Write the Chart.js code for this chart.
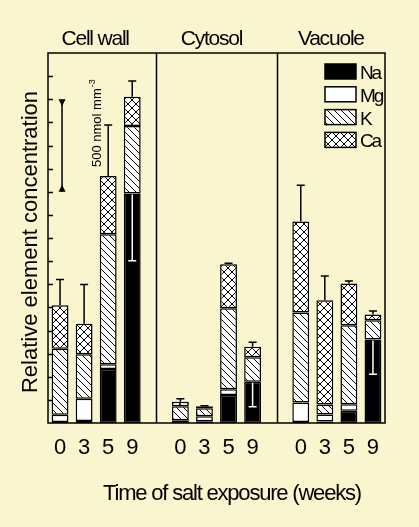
<!DOCTYPE html>
<html>
<head>
<meta charset="utf-8">
<script src="https://cdn.jsdelivr.net/npm/chart.js@4"></script>
<style>
  html, body { margin: 0; padding: 0; background: #f9f5cf; }
  canvas { display: block; }
</style>
</head>
<body>
<canvas id="c" width="419" height="527"></canvas>
<script>
// Compartments, sampling weeks and element values (nmol mm-3)
const compartments = ['Cell wall', 'Cytosol', 'Vacuole'];
const weeks = ['0', '3', '5', '9'];
const elements = ['Na', 'Mg', 'K', 'Ca'];

// order per compartment: week 0, 3, 5, 9
const naValues = [5, 11, 292, 1241,   5, 10, 151, 223,   5, 8, 66, 452];
const mgValues = [40, 120, 25, 0,     10, 27, 31, 0,     106, 38, 36, 0];
const kValues  = [357, 240, 703, 364, 76, 43, 438, 132,  486, 54, 427, 104];
const caValues = [234, 165, 315, 158, 24, 10, 238, 57,   492, 564, 225, 31];
const errTotal = [140, 213, 276, 85,  16, 3, 5, 24,      196, 130, 14, 18];
const errNa    = [0, 0, 0, 364,       0, 0, 0, 135,      0, 0, 0, 189];

const scaleBar = [1250, 1750]; // 500 nmol mm-3
const yTicks = [125, 250, 375, 500, 625, 750, 875, 1000, 1125, 1250, 1375, 1500, 1625, 1750, 1875];

const BG = '#f9f5cf';
const FONT = '"Liberation Sans", Arial, sans-serif';

// one empty slot between compartments
function withGaps(arr) {
  const out = [];
  arr.forEach((v, i) => {
    if (i > 0 && i % weeks.length === 0) out.push(null);
    out.push(v);
  });
  return out;
}
const slotOf = i => i + Math.floor(i / weeks.length);
const slotLabels = withGaps(compartments.flatMap(() => weeks)).map(l => l === null ? '' : l);

function makePattern(kind) {
  const s = kind === 'K' ? 7 : 8;
  const c = document.createElement('canvas');
  c.width = s; c.height = s;
  const g = c.getContext('2d');
  g.fillStyle = '#fff';
  g.fillRect(0, 0, s, s);
  g.strokeStyle = '#000';
  g.lineWidth = 1;
  g.beginPath();
  g.moveTo(-1, -1); g.lineTo(s + 1, s + 1);
  g.moveTo(-1, s - 1); g.lineTo(1, s + 1);
  g.moveTo(s - 1, -1); g.lineTo(s + 1, 1);
  if (kind === 'Ca') {
    g.moveTo(s + 1, -1); g.lineTo(-1, s + 1);
    g.moveTo(-1, 1); g.lineTo(1, -1);
    g.moveTo(s - 1, s + 1); g.lineTo(s + 1, s - 1);
  }
  g.stroke();
  return g.createPattern(c, 'repeat');
}

const fills = ['#000', '#fff', makePattern('K'), makePattern('Ca')];
const series = [naValues, mgValues, kValues, caValues];

function spacedText(ctx, text, x, y, spacing) {
  ctx.letterSpacing = spacing + 'px';
  ctx.fillText(text, x, y);
  ctx.letterSpacing = '0px';
}

const decor = {
  id: 'decor',
  beforeDraw(chart) {
    const ctx = chart.ctx;
    ctx.save();
    ctx.fillStyle = BG;
    ctx.fillRect(0, 0, chart.width, chart.height);
    ctx.restore();
  },
  afterDatasetsDraw(chart) {
    const ctx = chart.ctx;
    const a = chart.chartArea;
    const xs = chart.scales.x, ys = chart.scales.y;
    ctx.save();

    // frame and compartment dividers
    ctx.strokeStyle = '#000';
    ctx.lineWidth = 1.5;
    ctx.strokeRect(a.left, a.top, a.right - a.left, a.bottom - a.top);
    ctx.beginPath();
    [weeks.length, 2 * weeks.length + 1].forEach(s => {
      const x = Math.round(xs.getPixelForValue(s)) + 0.5;
      ctx.moveTo(x, a.top); ctx.lineTo(x, a.bottom);
    });
    // inward y ticks
    yTicks.forEach(v => {
      const y = Math.round(ys.getPixelForValue(v)) + 0.5;
      ctx.moveTo(a.left, y); ctx.lineTo(a.left + 5, y);
    });
    ctx.stroke();

    // error bars
    const topMeta = chart.getDatasetMeta(3);
    const naMeta = chart.getDatasetMeta(0);
    ctx.lineWidth = 1.5;
    naValues.forEach((_, i) => {
      const s = slotOf(i);
      const bar = topMeta.data[s];
      const total = naValues[i] + mgValues[i] + kValues[i] + caValues[i];
      const yTop = ys.getPixelForValue(total + errTotal[i]);
      ctx.strokeStyle = '#000';
      ctx.beginPath();
      ctx.moveTo(bar.x, bar.y); ctx.lineTo(bar.x, yTop);
      ctx.moveTo(bar.x - 4, yTop); ctx.lineTo(bar.x + 4, yTop);
      ctx.stroke();
      if (errNa[i] > 0) {
        const nb = naMeta.data[s];
        const yLow = ys.getPixelForValue(naValues[i] - errNa[i]);
        ctx.strokeStyle = '#fff';
        ctx.beginPath();
        ctx.moveTo(nb.x, nb.y + 1); ctx.lineTo(nb.x, yLow);
        ctx.moveTo(nb.x - 4, yLow); ctx.lineTo(nb.x + 4, yLow);
        ctx.stroke();
      }
    });

    // 500 nmol mm-3 scale bar
    const sx = xs.getPixelForValue(0) + 2;
    const sy1 = ys.getPixelForValue(scaleBar[1]);
    const sy0 = ys.getPixelForValue(scaleBar[0]);
    ctx.strokeStyle = '#000';
    ctx.fillStyle = '#000';
    ctx.beginPath();
    ctx.moveTo(sx, sy1); ctx.lineTo(sx, sy0);
    ctx.stroke();
    ctx.beginPath();
    ctx.moveTo(sx - 3.5, sy1); ctx.lineTo(sx + 3.5, sy1); ctx.lineTo(sx, sy1 + 7); ctx.closePath();
    ctx.moveTo(sx - 3.5, sy0); ctx.lineTo(sx + 3.5, sy0); ctx.lineTo(sx, sy0 - 7); ctx.closePath();
    ctx.fill();

    ctx.save();
    ctx.translate(101, 167);
    ctx.rotate(-Math.PI / 2);
    ctx.textAlign = 'left';
    ctx.textBaseline = 'alphabetic';
    ctx.font = '13px ' + FONT;
    ctx.fillText('500 nmol mm', 0, 0);
    const w = ctx.measureText('500 nmol mm').width;
    ctx.font = '9px ' + FONT;
    ctx.fillText('-3', w + 1, -6);
    ctx.restore();

    // legend
    ctx.font = '19px ' + FONT;
    ctx.textAlign = 'left';
    ctx.textBaseline = 'alphabetic';
    chart.data.datasets.forEach((ds, k) => {
      const y = 64 + k * 22.8;
      ctx.fillStyle = ds.backgroundColor;
      ctx.fillRect(325, y, 31, 15);
      ctx.strokeStyle = '#000';
      ctx.lineWidth = 1.5;
      ctx.strokeRect(325, y, 31, 15);
      ctx.fillStyle = '#000';
      spacedText(ctx, ds.label, 360, y + 15, -2.2);
    });

    // compartment titles
    ctx.font = '21px ' + FONT;
    ctx.textAlign = 'center';
    const shifts = [-1, -5, -6];
    compartments.forEach((name, c) => {
      const x0 = xs.getPixelForValue(slotOf(c * weeks.length));
      const x1 = xs.getPixelForValue(slotOf(c * weeks.length + weeks.length - 1));
      spacedText(ctx, name, (x0 + x1) / 2 + shifts[c], 45, -1.2);
    });

    // axis titles
    ctx.font = '22px ' + FONT;
    spacedText(ctx, 'Time of salt exposure (weeks)', 232, 500, -1.2);
    ctx.save();
    ctx.translate(36.5, 242);
    ctx.rotate(-Math.PI / 2);
    ctx.textAlign = 'center';
    ctx.fillText('Relative element concentration', 0, 0);
    ctx.restore();

    ctx.restore();
  }
};

new Chart(document.getElementById('c').getContext('2d'), {
  type: 'bar',
  data: {
    labels: slotLabels,
    datasets: elements.map((el, k) => ({
      label: el,
      data: withGaps(series[k]),
      backgroundColor: fills[k],
      borderColor: '#000',
      borderWidth: 1.5,
      borderSkipped: false,
      categoryPercentage: 1,
      barPercentage: 0.7
    }))
  },
  options: {
    responsive: false,
    animation: false,
    devicePixelRatio: 1,
    layout: { padding: { top: 53, right: 34, left: 0, bottom: 0 } },
    plugins: { legend: { display: false }, tooltip: { enabled: false } },
    scales: {
      x: {
        stacked: true,
        grid: { display: false, drawTicks: false },
        border: { display: false },
        ticks: { color: '#000', font: { family: FONT, size: 22 }, padding: 12, maxRotation: 0, autoSkip: false },
        afterFit: s => { s.height = 104; }
      },
      y: {
        stacked: true,
        min: 0,
        max: 2000,
        ticks: { display: false, stepSize: 125 },
        grid: { display: false },
        border: { display: false },
        afterFit: s => { s.width = 48; }
      }
    }
  },
  plugins: [decor]
});
</script>
</body>
</html>
